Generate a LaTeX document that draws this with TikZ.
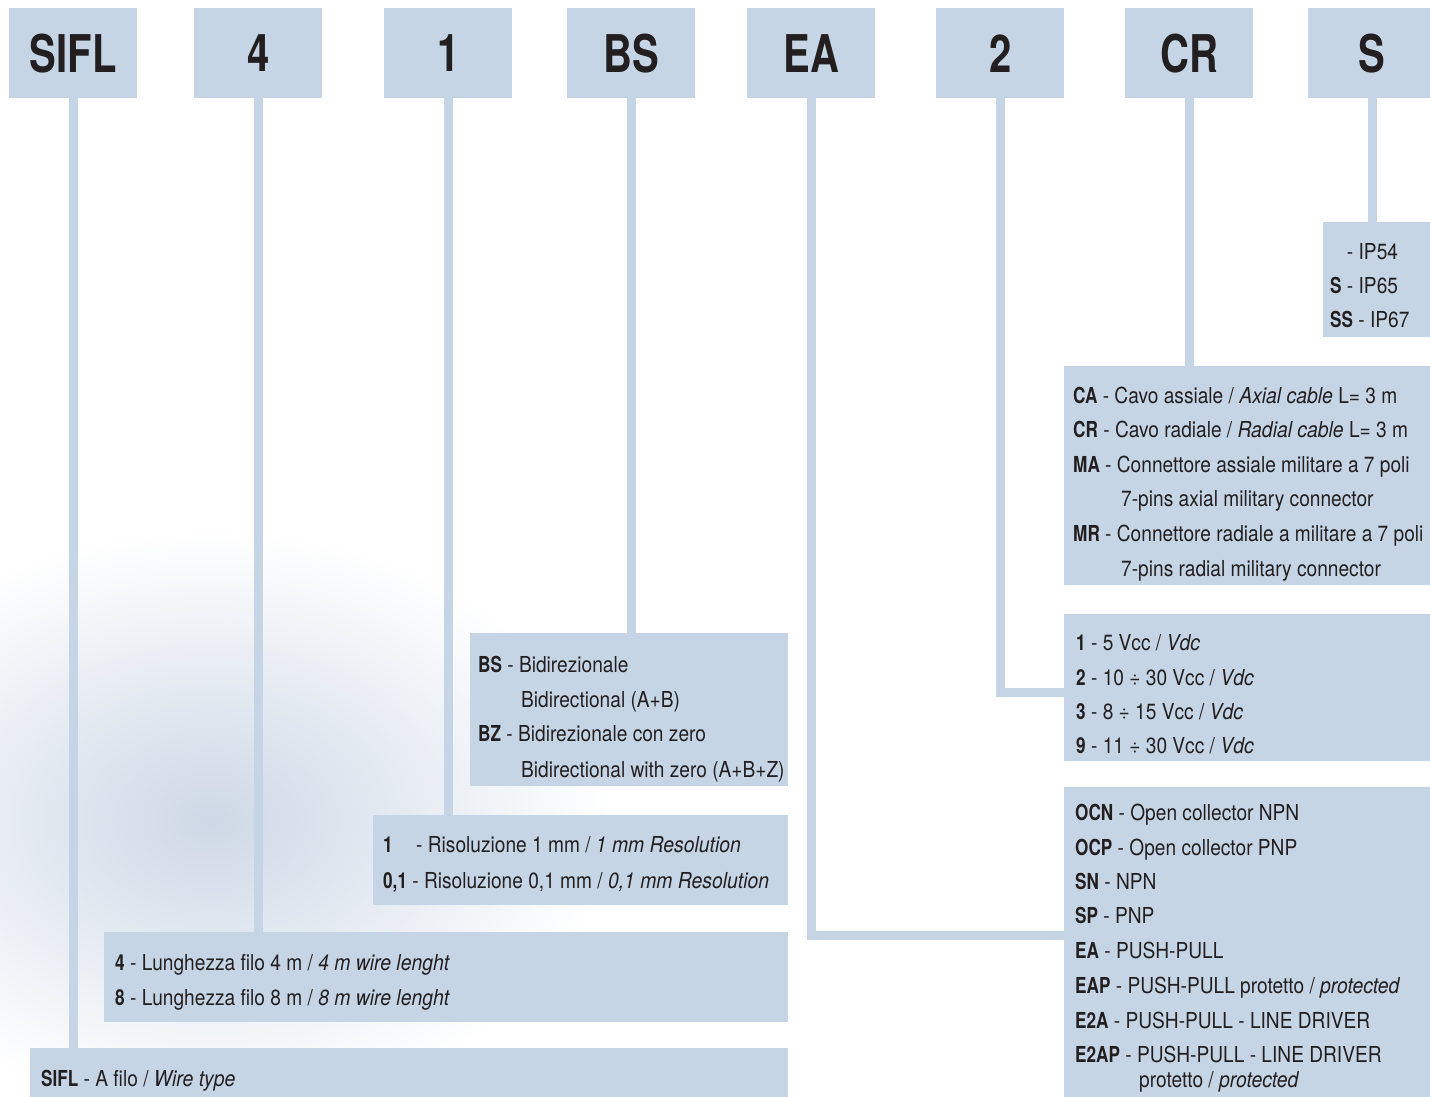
\documentclass[tikz,border=0pt]{standalone}
\usepackage{fontspec}
\setmainfont{TeX Gyre Heros}[FakeStretch=0.87, BoldFeatures={FakeStretch=0.78}, ItalicFeatures={FakeStretch=0.88}]
\newfontfamily\headfont{TeX Gyre Heros}[FakeStretch=0.77]
\definecolor{boxblue}{RGB}{198,213,229}
\definecolor{ink}{RGB}{35,31,32}
\definecolor{swoosh}{RGB}{206,216,230}
\begin{document}
\begin{tikzpicture}[x=1pt,y=-1pt,
  hdr/.style={fill=boxblue, draw=none, minimum width=128pt, minimum height=90pt, inner sep=0pt, anchor=north west, font=\headfont\fontsize{52}{52}\selectfont\bfseries, text=ink},
  panel/.style={fill=boxblue, draw=none, inner sep=0pt, anchor=north west},
  conn/.style={draw=boxblue, line width=9pt},
  txt/.style={anchor=base west, inner sep=0pt, text=ink, font=\fontsize{22}{22}\selectfont}]
\useasboundingbox (0,0) rectangle (1430,1097);
% soft background swoosh
\shade[inner color=swoosh, outer color=white] (210,820) ellipse [x radius=400, y radius=290];
% header boxes
\node[hdr] (hSIFL) at (9,8) {SIFL};
\node[hdr] (h4) at (194,8) {4};
\node[hdr] (h1) at (384,8) {1};
\node[hdr] (hBS) at (567,8) {BS};
\node[hdr] (hEA) at (747,8) {EA};
\node[hdr] (h2) at (936,8) {2};
\node[hdr] (hCR) at (1125,8) {CR};
\node[hdr] (hS) at (1308,8) {S};
% panels
\node[panel, minimum width=107pt, minimum height=115pt] (pS) at (1323,222) {};
\node[panel, minimum width=366pt, minimum height=219pt] (pCR) at (1064,366) {};
\node[panel, minimum width=366pt, minimum height=147pt] (p2) at (1064,614) {};
\node[panel, minimum width=366pt, minimum height=310pt] (pEA) at (1064,787) {};
\node[panel, minimum width=318pt, minimum height=153pt] (pBS) at (470,633) {};
\node[panel, minimum width=415pt, minimum height=90pt] (p1) at (373,815) {};
\node[panel, minimum width=684pt, minimum height=90pt] (p4) at (104,932) {};
\node[panel, minimum width=758pt, minimum height=49pt] (pSIFL) at (30,1048) {};
\coordinate (j2) at (1064,692.5);
\coordinate (jEA) at (1064,935.5);
% connectors
\draw[conn] (hSIFL.south) -- (hSIFL.south |- pSIFL.north);
\draw[conn] (h4.south) -- (h4.south |- p4.north);
\draw[conn] (h1.south) -- (h1.south |- p1.north);
\draw[conn] (hBS.south) -- (hBS.south |- pBS.north);
\draw[conn] (hEA.south) |- (jEA);
\draw[conn] (h2.south) |- (j2);
\draw[conn] (hCR.south) -- (hCR.south |- pCR.north);
\draw[conn] (hS.south) -- (hS.south |- pS.north);
% S panel
\node[txt] (s1) at (1330,259) {\phantom{\textbf{S}} - IP54};
\node[txt] (s2) at (1330,293) {\textbf{S} - IP65};
\node[txt] (s3) at (1330,327) {\textbf{SS} - IP67};
% CR panel
\node[txt] (c1) at (1073,403) {\textbf{CA} - Cavo assiale / \textit{Axial cable} L= 3 m};
\node[txt] (c2) at (1073,437) {\textbf{CR} - Cavo radiale / \textit{Radial cable} L= 3 m};
\node[txt] (c3) at (1073,472) {\textbf{MA} - Connettore assiale militare a 7 poli};
\node[txt] (c4) at (1121,506) {7-pins axial military connector};
\node[txt] (c5) at (1073,541) {\textbf{MR} - Connettore radiale a militare a 7 poli};
\node[txt] (c6) at (1121,576) {7-pins radial military connector};
% 2 panel
\node[txt] (v1) at (1076,650) {\textbf{1} - 5 Vcc / \textit{Vdc}};
\node[txt] (v2) at (1076,685) {\textbf{2} - 10 ÷ 30 Vcc / \textit{Vdc}};
\node[txt] (v3) at (1076,719) {\textbf{3} - 8 ÷ 15 Vcc / \textit{Vdc}};
\node[txt] (v4) at (1076,753) {\textbf{9} - 11 ÷ 30 Vcc / \textit{Vdc}};
% EA panel
\node[txt] (e1) at (1075,820) {\textbf{OCN} - Open collector NPN};
\node[txt] (e2) at (1075,855) {\textbf{OCP} - Open collector PNP};
\node[txt] (e3) at (1075,889) {\textbf{SN} - NPN};
\node[txt] (e4) at (1075,923) {\textbf{SP} - PNP};
\node[txt] (e5) at (1075,958) {\textbf{EA} - PUSH-PULL};
\node[txt] (e6) at (1075,993) {\textbf{EAP} - PUSH-PULL protetto / \textit{protected}};
\node[txt] (e7) at (1075,1028) {\textbf{E2A} - PUSH-PULL - LINE DRIVER};
\node[txt] (e8) at (1075,1062) {\textbf{E2AP} - PUSH-PULL - LINE DRIVER};
\node[txt] (e9) at (1139,1087) {protetto / \textit{protected}};
% BS panel
\node[txt] (b1) at (478,672) {\textbf{BS} - Bidirezionale};
\node[txt] (b2) at (521,707) {Bidirectional (A+B)};
\node[txt] (b3) at (478,741) {\textbf{BZ} - Bidirezionale con zero};
\node[txt] (b4) at (521,777) {Bidirectional with zero (A+B+Z)};
% 1 panel
\node[txt] (r1a) at (383,852) {\textbf{1}};
\node[txt] (r1b) at (416,852) {- Risoluzione 1 mm / \textit{1 mm Resolution}};
\node[txt] (r2) at (383,888) {\textbf{0,1} - Risoluzione 0,1 mm / \textit{0,1 mm Resolution}};
% 4 panel
\node[txt] (l1) at (115,970.5) {\textbf{4} - Lunghezza filo 4 m / \textit{4 m wire lenght}};
\node[txt] (l2) at (115,1005.5) {\textbf{8} - Lunghezza filo 8 m / \textit{8 m wire lenght}};
% SIFL panel
\node[txt] (w1) at (41,1086.5) {\textbf{SIFL} - A filo / \textit{Wire type}};
\end{tikzpicture}
\end{document}
